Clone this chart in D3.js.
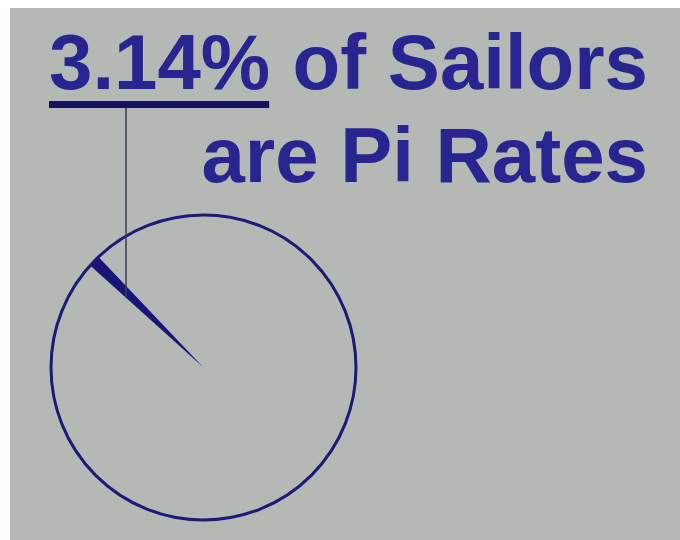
<!DOCTYPE html>
<html>
<head>
<meta charset="utf-8">
<script src="https://cdn.jsdelivr.net/npm/d3@7"></script>
<style>
  html, body { margin: 0; padding: 0; background: #ffffff; }
  svg { display: block; }
  .title { font-family: "Liberation Sans", Arial, Helvetica, sans-serif; font-weight: bold; font-size: 78px; fill: #29248f; }
</style>
</head>
<body>
<svg id="chart"></svg>
<script>
const width = 680, height = 540;

// title pieces
const headline = '3.14%';
const titleLines = ['of Sailors', 'are Pi Rates'];

// pie shares as drawn in the picture (the wedge is much thinner than its label)
const sliceNames = ['Pi Rates', 'Other'];
const sliceShares = [1.25, 98.75];

const svg = d3.select('#chart').attr('width', width).attr('height', height);

// gray panel
svg.append('rect')
  .attr('x', 10).attr('y', 8)
  .attr('width', width - 10).attr('height', height - 8)
  .attr('fill', '#b5b9b6');

// headline, underline, leader
const head = svg.append('text').attr('class', 'title')
  .attr('x', 49).attr('y', 89).text(headline);
const headW = head.node().getComputedTextLength();

svg.append('rect')
  .attr('x', 49).attr('y', 101)
  .attr('width', headW - 1).attr('height', 7)
  .attr('fill', '#15125e');

svg.append('text').attr('class', 'title')
  .attr('x', 648).attr('y', 89).attr('text-anchor', 'end')
  .text(titleLines[0]);
svg.append('text').attr('class', 'title')
  .attr('x', 648).attr('y', 182).attr('text-anchor', 'end')
  .text(titleLines[1]);

// pie
const cx = 203.5, cy = 367.5, radius = 152.5;
const startDeg = -48;

const pie = d3.pie().sort(null)
  .startAngle(startDeg * Math.PI / 180)
  .endAngle((startDeg + 360) * Math.PI / 180);
const arc = d3.arc().innerRadius(0).outerRadius(radius);

const pg = svg.append('g').attr('transform', `translate(${cx},${cy})`);

const arcs = pie(sliceShares);

pg.selectAll('path.slice')
  .data(arcs)
  .join('path')
  .attr('class', 'slice')
  .attr('d', arc)
  .attr('fill', (d, i) => i === 0 ? '#1a1478' : 'none')
  .append('title').text((d, i) => sliceNames[i]);

pg.append('circle')
  .attr('r', radius)
  .attr('fill', 'none')
  .attr('stroke', '#1e1a78')
  .attr('stroke-width', 3);

// leader from underline down to the wedge edge
const a0 = arcs[0].startAngle;
const leaderX = 126;
const t = (leaderX - cx) / Math.sin(a0);
const leaderY = cy - t * Math.cos(a0);
svg.append('line')
  .attr('x1', leaderX).attr('x2', leaderX)
  .attr('y1', 108).attr('y2', leaderY)
  .attr('stroke', '#3b3d5a')
  .attr('stroke-width', 1.5);
</script>
</body>
</html>
